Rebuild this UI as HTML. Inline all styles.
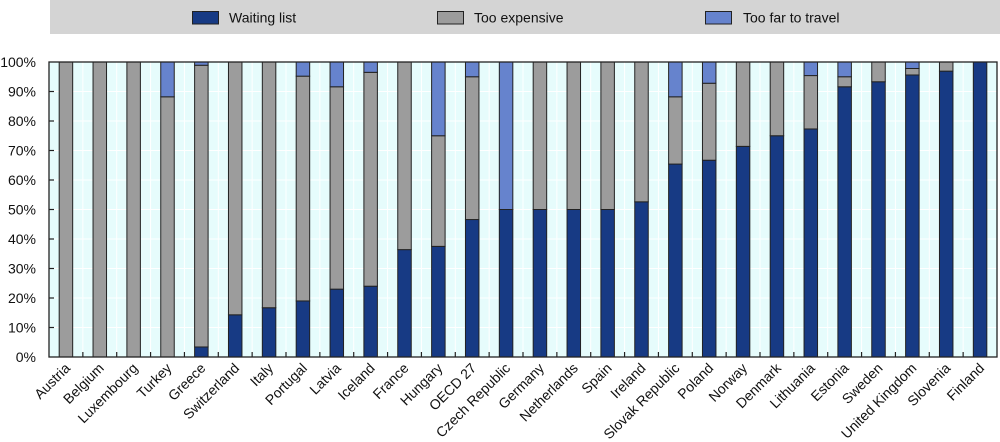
<!DOCTYPE html>
<html><head><meta charset="utf-8"><style>
html,body{margin:0;padding:0;background:#fff;}
svg{display:block;font-family:"Liberation Sans",Arial,sans-serif;}
</style></head><body>
<svg width="1000" height="442" viewBox="0 0 1000 442" xmlns="http://www.w3.org/2000/svg">
<!-- legend -->
<rect x="50" y="0" width="950" height="34" fill="#d4d4d4"/>
<rect x="192.5" y="11.5" width="26" height="12.5" fill="#173a84" stroke="#222" stroke-width="1"/>
<text x="229" y="22.5" font-size="14" fill="#111">Waiting list</text>
<rect x="437.5" y="11.5" width="26" height="12.5" fill="#9c9c9c" stroke="#222" stroke-width="1"/>
<text x="474" y="22.5" font-size="14" fill="#111">Too expensive</text>
<rect x="705.5" y="11.5" width="26" height="12.5" fill="#6683cd" stroke="#222" stroke-width="1"/>
<text x="743" y="22.5" font-size="14" fill="#111">Too far to travel</text>

<!-- plot background -->
<rect x="49" y="62" width="948" height="295" fill="#e6fcfc"/>
<g stroke="#ffffff" stroke-width="1">
<line x1="49" x2="997" y1="91.5" y2="91.5"/><line x1="49" x2="997" y1="121" y2="121"/><line x1="49" x2="997" y1="150.5" y2="150.5"/><line x1="49" x2="997" y1="180" y2="180"/><line x1="49" x2="997" y1="209.5" y2="209.5"/><line x1="49" x2="997" y1="239" y2="239"/><line x1="49" x2="997" y1="268.5" y2="268.5"/><line x1="49" x2="997" y1="298" y2="298"/><line x1="49" x2="997" y1="327.5" y2="327.5"/>
<line x1="82.86" x2="82.86" y1="62" y2="357"/><line x1="116.71" x2="116.71" y1="62" y2="357"/><line x1="150.57" x2="150.57" y1="62" y2="357"/><line x1="184.43" x2="184.43" y1="62" y2="357"/><line x1="218.29" x2="218.29" y1="62" y2="357"/><line x1="252.14" x2="252.14" y1="62" y2="357"/><line x1="286" x2="286" y1="62" y2="357"/><line x1="319.86" x2="319.86" y1="62" y2="357"/><line x1="353.71" x2="353.71" y1="62" y2="357"/><line x1="387.57" x2="387.57" y1="62" y2="357"/><line x1="421.43" x2="421.43" y1="62" y2="357"/><line x1="455.29" x2="455.29" y1="62" y2="357"/><line x1="489.14" x2="489.14" y1="62" y2="357"/><line x1="523" x2="523" y1="62" y2="357"/><line x1="556.86" x2="556.86" y1="62" y2="357"/><line x1="590.71" x2="590.71" y1="62" y2="357"/><line x1="624.57" x2="624.57" y1="62" y2="357"/><line x1="658.43" x2="658.43" y1="62" y2="357"/><line x1="692.29" x2="692.29" y1="62" y2="357"/><line x1="726.14" x2="726.14" y1="62" y2="357"/><line x1="760" x2="760" y1="62" y2="357"/><line x1="793.86" x2="793.86" y1="62" y2="357"/><line x1="827.71" x2="827.71" y1="62" y2="357"/><line x1="861.57" x2="861.57" y1="62" y2="357"/><line x1="895.43" x2="895.43" y1="62" y2="357"/><line x1="929.29" x2="929.29" y1="62" y2="357"/><line x1="963.14" x2="963.14" y1="62" y2="357"/>
</g>

<!-- bars -->
<g stroke="#222" stroke-width="1">
<!-- Austria -->
<rect x="59.18" y="62" width="13.5" height="295" fill="#9c9c9c"/>
<!-- Belgium -->
<rect x="93.04" y="62" width="13.5" height="295" fill="#9c9c9c"/>
<!-- Luxembourg -->
<rect x="126.89" y="62" width="13.5" height="295" fill="#9c9c9c"/>
<!-- Turkey -->
<rect x="160.75" y="96.81" width="13.5" height="260.19" fill="#9c9c9c"/>
<rect x="160.75" y="62" width="13.5" height="34.81" fill="#6683cd"/>
<!-- Greece -->
<rect x="194.61" y="346.97" width="13.5" height="10.03" fill="#173a84"/>
<rect x="194.61" y="65.24" width="13.5" height="281.73" fill="#9c9c9c"/>
<rect x="194.61" y="62" width="13.5" height="3.24" fill="#6683cd"/>
<!-- Switzerland -->
<rect x="228.46" y="314.82" width="13.5" height="42.18" fill="#173a84"/>
<rect x="228.46" y="62" width="13.5" height="252.82" fill="#9c9c9c"/>
<!-- Italy -->
<rect x="262.32" y="307.73" width="13.5" height="49.27" fill="#173a84"/>
<rect x="262.32" y="62" width="13.5" height="245.73" fill="#9c9c9c"/>
<!-- Portugal -->
<rect x="296.18" y="300.95" width="13.5" height="56.05" fill="#173a84"/>
<rect x="296.18" y="76.16" width="13.5" height="224.79" fill="#9c9c9c"/>
<rect x="296.18" y="62" width="13.5" height="14.16" fill="#6683cd"/>
<!-- Latvia -->
<rect x="330.04" y="289.15" width="13.5" height="67.85" fill="#173a84"/>
<rect x="330.04" y="86.78" width="13.5" height="202.37" fill="#9c9c9c"/>
<rect x="330.04" y="62" width="13.5" height="24.78" fill="#6683cd"/>
<!-- Iceland -->
<rect x="363.89" y="286.2" width="13.5" height="70.8" fill="#173a84"/>
<rect x="363.89" y="72.32" width="13.5" height="213.88" fill="#9c9c9c"/>
<rect x="363.89" y="62" width="13.5" height="10.32" fill="#6683cd"/>
<!-- France -->
<rect x="397.75" y="249.62" width="13.5" height="107.38" fill="#173a84"/>
<rect x="397.75" y="62" width="13.5" height="187.62" fill="#9c9c9c"/>
<!-- Hungary -->
<rect x="431.61" y="246.37" width="13.5" height="110.63" fill="#173a84"/>
<rect x="431.61" y="135.75" width="13.5" height="110.62" fill="#9c9c9c"/>
<rect x="431.61" y="62" width="13.5" height="73.75" fill="#6683cd"/>
<!-- OECD 27 -->
<rect x="465.46" y="219.53" width="13.5" height="137.47" fill="#173a84"/>
<rect x="465.46" y="76.75" width="13.5" height="142.78" fill="#9c9c9c"/>
<rect x="465.46" y="62" width="13.5" height="14.75" fill="#6683cd"/>
<!-- Czech -->
<rect x="499.32" y="209.5" width="13.5" height="147.5" fill="#173a84"/>
<rect x="499.32" y="62" width="13.5" height="147.5" fill="#6683cd"/>
<!-- Germany -->
<rect x="533.18" y="209.5" width="13.5" height="147.5" fill="#173a84"/>
<rect x="533.18" y="62" width="13.5" height="147.5" fill="#9c9c9c"/>
<!-- Netherlands -->
<rect x="567.04" y="209.5" width="13.5" height="147.5" fill="#173a84"/>
<rect x="567.04" y="62" width="13.5" height="147.5" fill="#9c9c9c"/>
<!-- Spain -->
<rect x="600.89" y="209.5" width="13.5" height="147.5" fill="#173a84"/>
<rect x="600.89" y="62" width="13.5" height="147.5" fill="#9c9c9c"/>
<!-- Ireland -->
<rect x="634.75" y="201.83" width="13.5" height="155.17" fill="#173a84"/>
<rect x="634.75" y="62" width="13.5" height="139.83" fill="#9c9c9c"/>
<!-- Slovak -->
<rect x="668.61" y="164.07" width="13.5" height="192.93" fill="#173a84"/>
<rect x="668.61" y="96.81" width="13.5" height="67.26" fill="#9c9c9c"/>
<rect x="668.61" y="62" width="13.5" height="34.81" fill="#6683cd"/>
<!-- Poland -->
<rect x="702.46" y="160.23" width="13.5" height="196.77" fill="#173a84"/>
<rect x="702.46" y="83.24" width="13.5" height="76.99" fill="#9c9c9c"/>
<rect x="702.46" y="62" width="13.5" height="21.24" fill="#6683cd"/>
<!-- Norway -->
<rect x="736.32" y="146.37" width="13.5" height="210.63" fill="#173a84"/>
<rect x="736.32" y="62" width="13.5" height="84.37" fill="#9c9c9c"/>
<!-- Denmark -->
<rect x="770.18" y="135.75" width="13.5" height="221.25" fill="#173a84"/>
<rect x="770.18" y="62" width="13.5" height="73.75" fill="#9c9c9c"/>
<!-- Lithuania -->
<rect x="804.04" y="128.96" width="13.5" height="228.04" fill="#173a84"/>
<rect x="804.04" y="75.57" width="13.5" height="53.39" fill="#9c9c9c"/>
<rect x="804.04" y="62" width="13.5" height="13.57" fill="#6683cd"/>
<!-- Estonia -->
<rect x="837.89" y="86.78" width="13.5" height="270.22" fill="#173a84"/>
<rect x="837.89" y="76.75" width="13.5" height="10.03" fill="#9c9c9c"/>
<rect x="837.89" y="62" width="13.5" height="14.75" fill="#6683cd"/>
<!-- Sweden -->
<rect x="871.75" y="81.76" width="13.5" height="275.24" fill="#173a84"/>
<rect x="871.75" y="62" width="13.5" height="19.76" fill="#9c9c9c"/>
<!-- UK -->
<rect x="905.61" y="74.98" width="13.5" height="282.02" fill="#173a84"/>
<rect x="905.61" y="68.49" width="13.5" height="6.49" fill="#9c9c9c"/>
<rect x="905.61" y="62" width="13.5" height="6.49" fill="#6683cd"/>
<!-- Slovenia -->
<rect x="939.46" y="71.14" width="13.5" height="285.86" fill="#173a84"/>
<rect x="939.46" y="62" width="13.5" height="9.14" fill="#9c9c9c"/>
<!-- Finland -->
<rect x="973.32" y="62" width="13.5" height="295" fill="#173a84"/>
</g>

<!-- frame -->
<rect x="49" y="62" width="948" height="295" fill="none" stroke="#222" stroke-width="1.3"/>
<!-- ticks -->
<g stroke="#222" stroke-width="1.2">
<line x1="49" x2="54" y1="91.5" y2="91.5"/><line x1="49" x2="54" y1="121" y2="121"/><line x1="49" x2="54" y1="150.5" y2="150.5"/><line x1="49" x2="54" y1="180" y2="180"/><line x1="49" x2="54" y1="209.5" y2="209.5"/><line x1="49" x2="54" y1="239" y2="239"/><line x1="49" x2="54" y1="268.5" y2="268.5"/><line x1="49" x2="54" y1="298" y2="298"/><line x1="49" x2="54" y1="327.5" y2="327.5"/>
<line x1="82.86" x2="82.86" y1="357" y2="352"/><line x1="116.71" x2="116.71" y1="357" y2="352"/><line x1="150.57" x2="150.57" y1="357" y2="352"/><line x1="184.43" x2="184.43" y1="357" y2="352"/><line x1="218.29" x2="218.29" y1="357" y2="352"/><line x1="252.14" x2="252.14" y1="357" y2="352"/><line x1="286" x2="286" y1="357" y2="352"/><line x1="319.86" x2="319.86" y1="357" y2="352"/><line x1="353.71" x2="353.71" y1="357" y2="352"/><line x1="387.57" x2="387.57" y1="357" y2="352"/><line x1="421.43" x2="421.43" y1="357" y2="352"/><line x1="455.29" x2="455.29" y1="357" y2="352"/><line x1="489.14" x2="489.14" y1="357" y2="352"/><line x1="523" x2="523" y1="357" y2="352"/><line x1="556.86" x2="556.86" y1="357" y2="352"/><line x1="590.71" x2="590.71" y1="357" y2="352"/><line x1="624.57" x2="624.57" y1="357" y2="352"/><line x1="658.43" x2="658.43" y1="357" y2="352"/><line x1="692.29" x2="692.29" y1="357" y2="352"/><line x1="726.14" x2="726.14" y1="357" y2="352"/><line x1="760" x2="760" y1="357" y2="352"/><line x1="793.86" x2="793.86" y1="357" y2="352"/><line x1="827.71" x2="827.71" y1="357" y2="352"/><line x1="861.57" x2="861.57" y1="357" y2="352"/><line x1="895.43" x2="895.43" y1="357" y2="352"/><line x1="929.29" x2="929.29" y1="357" y2="352"/><line x1="963.14" x2="963.14" y1="357" y2="352"/>
</g>

<!-- y labels -->
<g font-size="14" fill="#111" text-anchor="end">
<text x="36" y="67">100%</text>
<text x="36" y="96.5">90%</text>
<text x="36" y="126">80%</text>
<text x="36" y="155.5">70%</text>
<text x="36" y="185">60%</text>
<text x="36" y="214.5">50%</text>
<text x="36" y="244">40%</text>
<text x="36" y="273.5">30%</text>
<text x="36" y="303">20%</text>
<text x="36" y="332.5">10%</text>
<text x="36" y="362">0%</text>
</g>

<!-- x labels -->
<g font-size="14" fill="#111" text-anchor="end">
<text transform="translate(71,369) rotate(-45)">Austria</text>
<text transform="translate(104.8,369) rotate(-45)">Belgium</text>
<text transform="translate(138.6,369) rotate(-45)">Luxembourg</text>
<text transform="translate(172.5,369) rotate(-45)">Turkey</text>
<text transform="translate(206.4,369) rotate(-45)">Greece</text>
<text transform="translate(240.2,369) rotate(-45)">Switzerland</text>
<text transform="translate(274.1,369) rotate(-45)">Italy</text>
<text transform="translate(307.9,369) rotate(-45)">Portugal</text>
<text transform="translate(341.8,369) rotate(-45)">Latvia</text>
<text transform="translate(375.6,369) rotate(-45)">Iceland</text>
<text transform="translate(409.5,369) rotate(-45)">France</text>
<text transform="translate(443.4,369) rotate(-45)">Hungary</text>
<text transform="translate(477.2,369) rotate(-45)">OECD 27</text>
<text transform="translate(511.1,369) rotate(-45)">Czech Republic</text>
<text transform="translate(544.9,369) rotate(-45)">Germany</text>
<text transform="translate(578.8,369) rotate(-45)">Netherlands</text>
<text transform="translate(612.6,369) rotate(-45)">Spain</text>
<text transform="translate(646.5,369) rotate(-45)">Ireland</text>
<text transform="translate(680.4,369) rotate(-45)">Slovak Republic</text>
<text transform="translate(714.2,369) rotate(-45)">Poland</text>
<text transform="translate(748.1,369) rotate(-45)">Norway</text>
<text transform="translate(781.9,369) rotate(-45)">Denmark</text>
<text transform="translate(815.8,369) rotate(-45)">Lithuania</text>
<text transform="translate(849.6,369) rotate(-45)">Estonia</text>
<text transform="translate(883.5,369) rotate(-45)">Sweden</text>
<text transform="translate(917.4,369) rotate(-45)">United Kingdom</text>
<text transform="translate(951.2,369) rotate(-45)">Slovenia</text>
<text transform="translate(985.1,369) rotate(-45)">Finland</text>
</g>
</svg>
</body></html>
